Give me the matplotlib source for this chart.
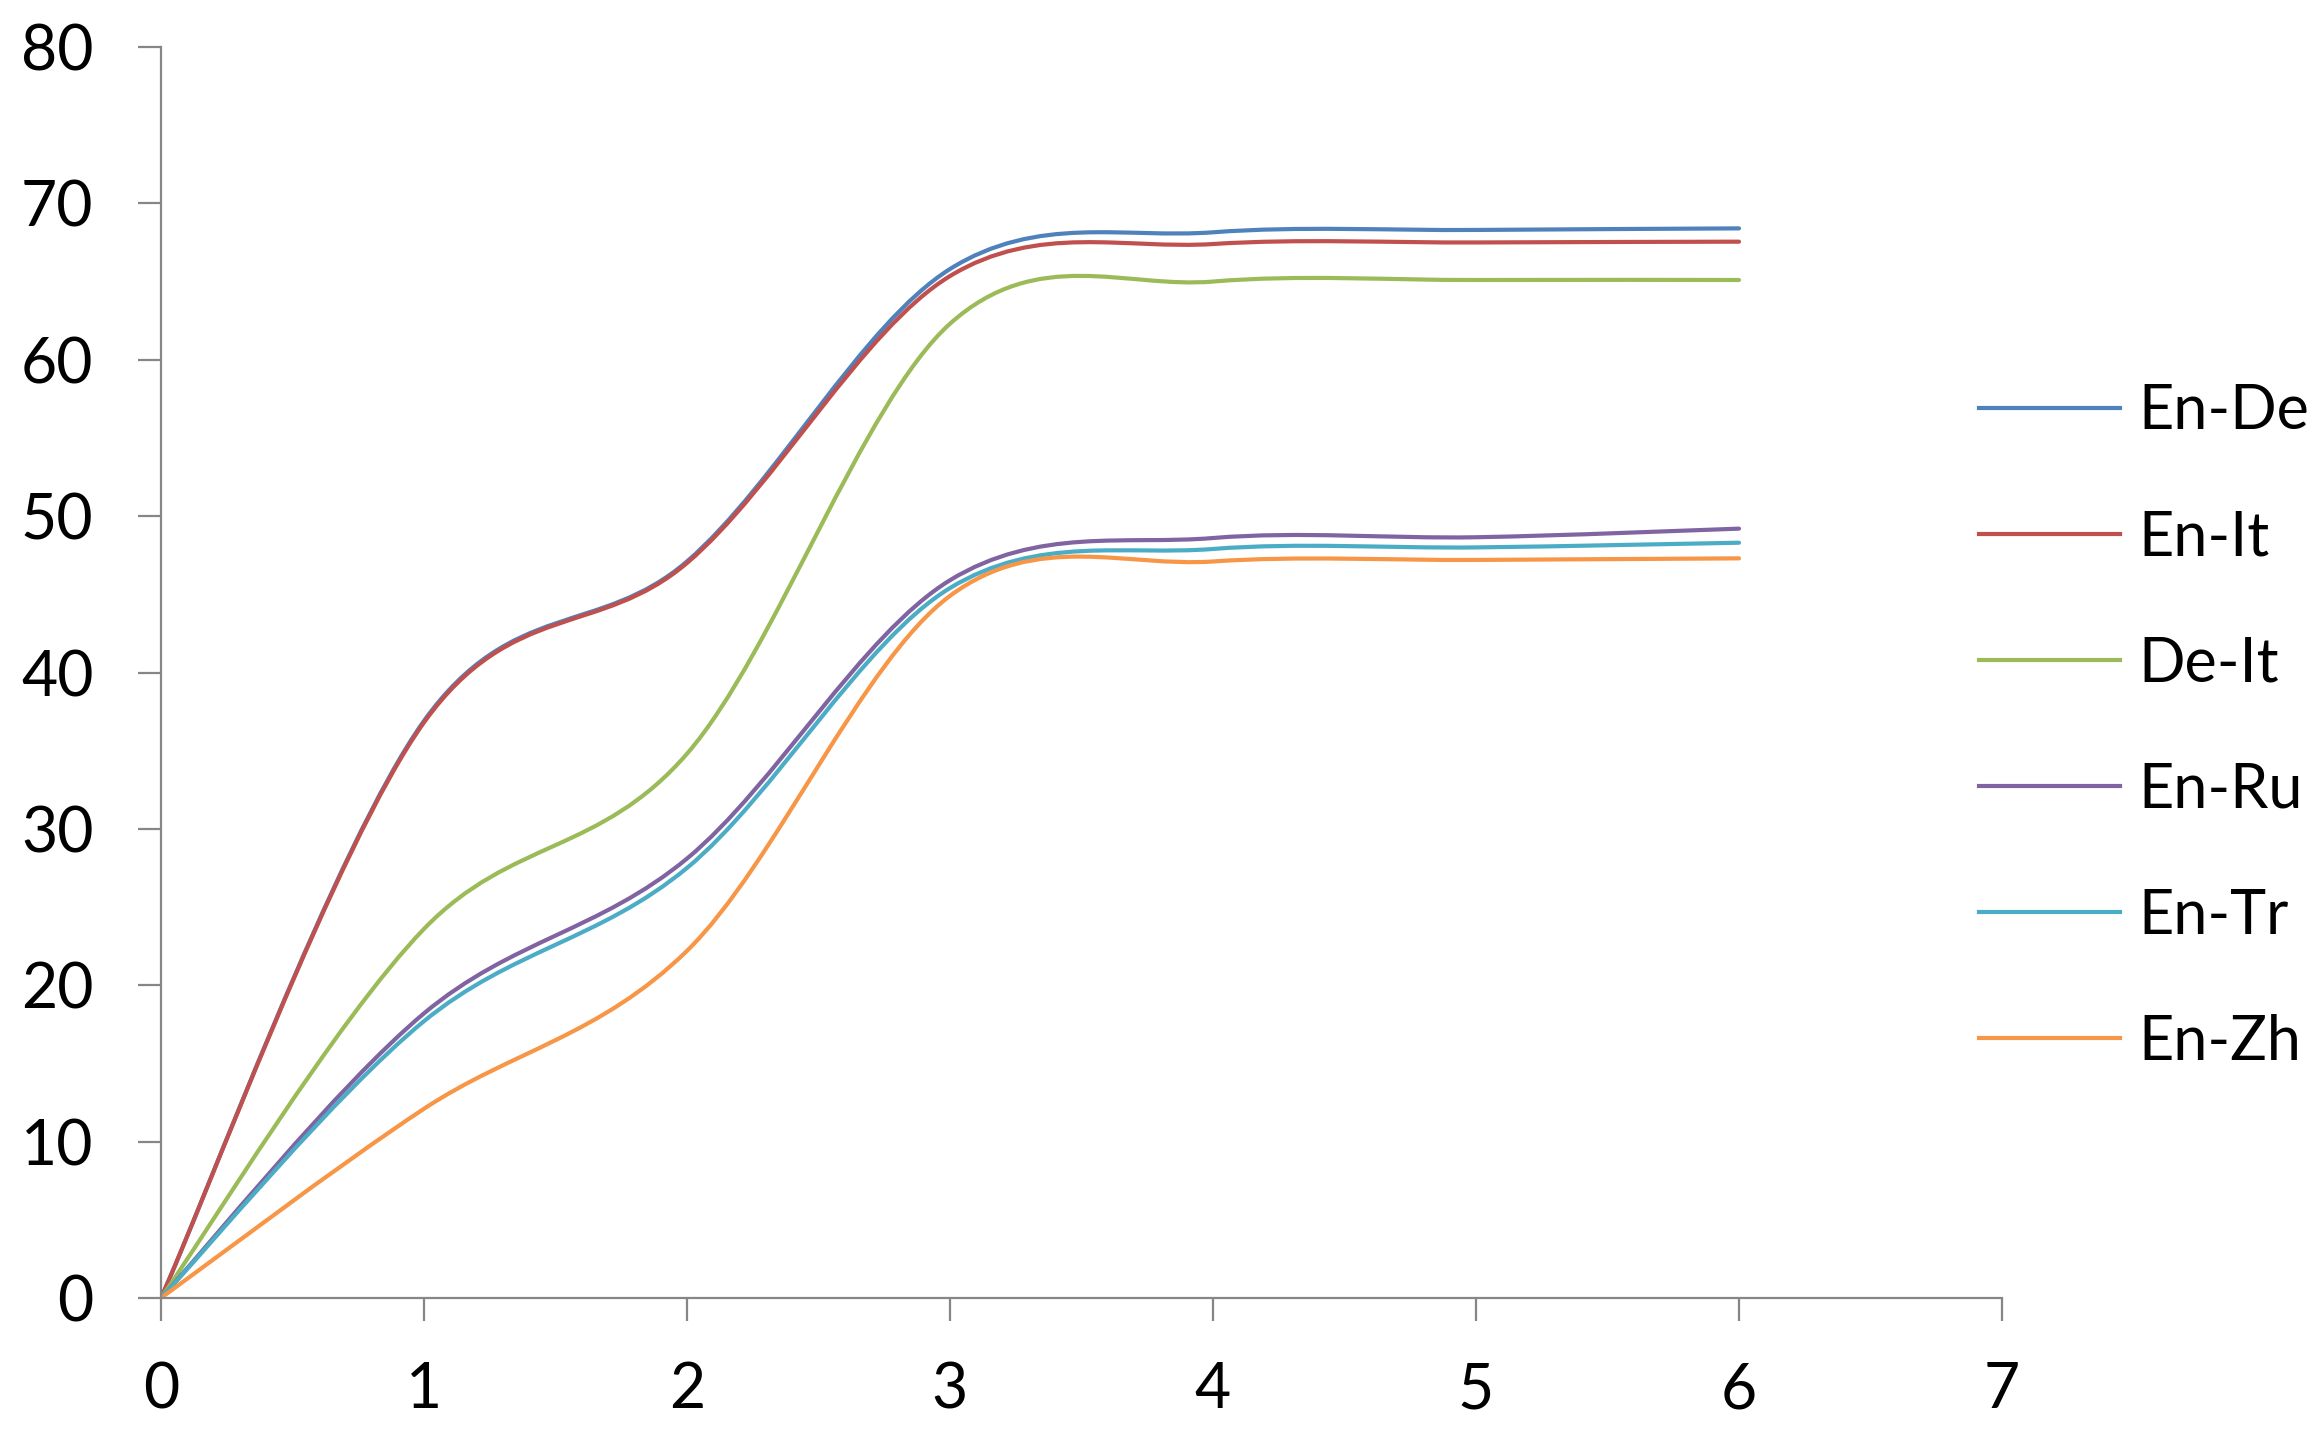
import matplotlib.pyplot as plt
from matplotlib.path import Path
from matplotlib.patches import PathPatch
from matplotlib.lines import Line2D

plt.rcParams["font.family"] = ["Lato", "DejaVu Sans"]

steps = [0, 1, 2, 3, 4, 5, 6]
series_names = ["En-De", "En-It", "De-It", "En-Ru", "En-Tr", "En-Zh"]
en_de = [0, 36.9, 47.1, 65.8, 68.15, 68.3, 68.4]
en_it = [0, 36.8, 47.0, 65.35, 67.4, 67.5, 67.55]
de_it = [0, 23.6, 34.8, 62.3, 65.0, 65.1, 65.1]
en_ru = [0, 18.2, 28.1, 45.9, 48.6, 48.65, 49.2]
en_tr = [0, 17.7, 27.5, 45.4, 47.9, 48.0, 48.3]
en_zh = [0, 12.1, 22.2, 44.9, 47.1, 47.2, 47.3]
colors = ["#4F81BD", "#C0504D", "#9BBB59", "#8064A2", "#4BACC6", "#F79646"]
x_ticks = [0, 1, 2, 3, 4, 5, 6, 7]
y_ticks = [0, 10, 20, 30, 40, 50, 60, 70, 80]


def smooth_path(xs, ys):
    # Excel-style smoothed line: cubic Bezier segments through the data points
    pts = list(zip(xs, ys))
    n = len(pts)
    verts = [pts[0]]
    codes = [Path.MOVETO]
    for i in range(n - 1):
        p0 = pts[i - 1] if i > 0 else pts[i]
        p1 = pts[i]
        p2 = pts[i + 1]
        p3 = pts[i + 2] if i + 2 < n else pts[i + 1]
        c1 = (p1[0] + (p2[0] - p0[0]) / 6, p1[1] + (p2[1] - p0[1]) / 6)
        c2 = (p2[0] - (p3[0] - p1[0]) / 6, p2[1] - (p3[1] - p1[1]) / 6)
        verts += [c1, c2, p2]
        codes += [Path.CURVE4] * 3
    return Path(verts, codes)


fig = plt.figure(figsize=(23.15, 14.41), dpi=100)
ax = fig.add_axes([0.0695, 0.0992, 0.7953, 0.8682])

series = [en_de, en_it, de_it, en_ru, en_tr, en_zh]
handles = []
for name, values, color in zip(series_names, series, colors):
    patch = PathPatch(smooth_path(steps, values), facecolor="none",
                      edgecolor=color, lw=3, capstyle="round")
    ax.add_patch(patch)
    handles.append(Line2D([], [], color=color, lw=3, label=name))

ax.set_xlim(0, 7)
ax.set_ylim(0, 80)
ax.set_xticks(x_ticks)
ax.set_yticks(y_ticks)

for side in ["top", "right"]:
    ax.spines[side].set_visible(False)
for side in ["left", "bottom"]:
    ax.spines[side].set_color("#868686")
    ax.spines[side].set_linewidth(1.6)

ax.tick_params(axis="both", direction="out", length=16.5, width=1.6,
               color="#868686", labelsize=45, labelcolor="black")
ax.tick_params(axis="y", pad=32)
ax.tick_params(axis="x", pad=29)

fig.legend(handles=handles, loc="center left", bbox_to_anchor=(0.8549, 0.4955),
           frameon=False, fontsize=44, handlelength=2.31, handletextpad=0.3,
           labelspacing=1.13, borderpad=0, borderaxespad=0)

fig.savefig("out.png", dpi=100)
